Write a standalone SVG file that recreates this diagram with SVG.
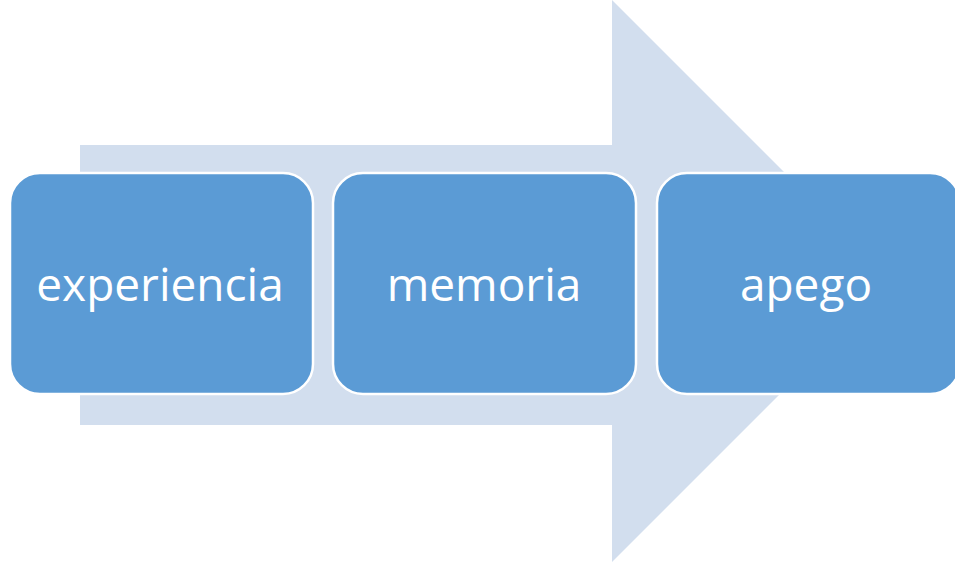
<svg xmlns="http://www.w3.org/2000/svg" width="955" height="562" viewBox="0 0 955 562">
<style>
.box{fill:#5B9BD5;stroke:#FFFFFF;stroke-width:2.5}
.lbl{font-family:"Open Sans","Liberation Sans",sans-serif;font-size:46px;fill:#FFFFFF;text-anchor:middle}
</style>
<rect width="955" height="562" fill="#FFFFFF"/>
<g id="connectors">
<path d="M80,145 H612 V0 L893,281 L612,562 V425 H80 Z" fill="#D2DEEE"/>
</g>
<g id="node-experiencia">
<rect class="box" x="10" y="173" width="303" height="221" rx="30"/>
<text class="lbl" x="160" y="301">experiencia</text>
</g>
<g id="node-memoria">
<rect class="box" x="333" y="173" width="303" height="221" rx="30"/>
<text class="lbl" x="484" y="301">memoria</text>
</g>
<g id="node-apego">
<rect class="box" x="657" y="173" width="303" height="221" rx="30"/>
<text class="lbl" x="806" y="301">apego</text>
</g>
</svg>
